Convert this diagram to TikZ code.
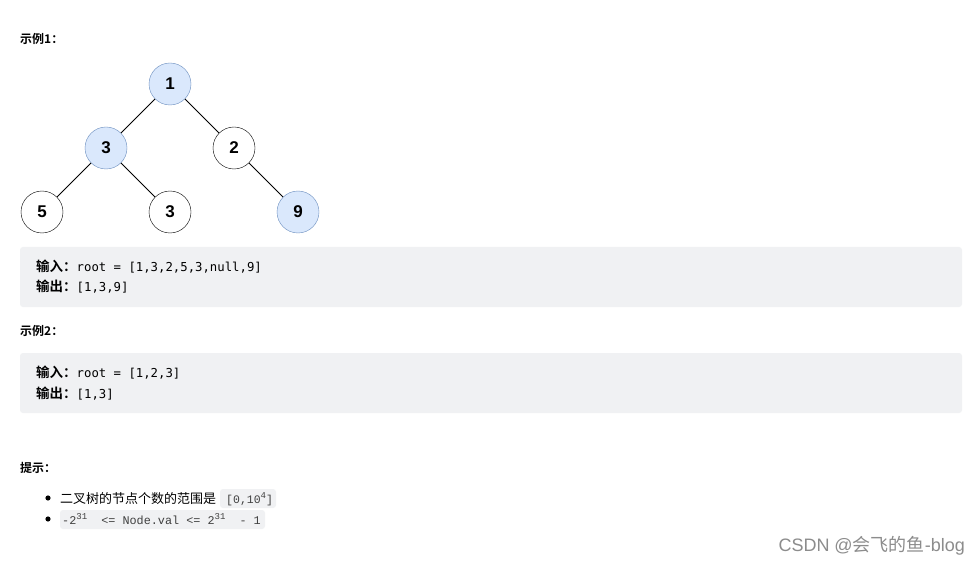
\documentclass[tikz,border=0pt]{standalone}
\usepackage{fontspec}
\setmainfont{Liberation Sans}
\newfontfamily\cjk{Noto Sans CJK SC}
\newfontfamily\cjkb{Noto Sans CJK SC Bold}
\newfontfamily\monof{DejaVu Sans Mono}
\newfontfamily\monog{Liberation Mono}
\definecolor{codebg}{HTML}{F0F1F3}
\definecolor{nodeblue}{HTML}{DAE8FC}
\definecolor{nodeedge}{HTML}{6C8EBF}
\newcommand{\supx}[1]{\raisebox{4.5pt}{\fontsize{9}{9}\selectfont #1}}
\begin{document}
\begin{tikzpicture}[x=1pt,y=-1pt,
  tnode/.style={circle,draw=black,fill=white,minimum size=42pt,inner sep=0pt,font=\fontsize{17}{17}\selectfont\bfseries},
  hnode/.style={tnode,draw=nodeedge,fill=nodeblue},
  edge/.style={draw=black,line width=0.8pt},
  head/.style={anchor=base west,inner sep=0pt,font=\fontsize{12}{12}\selectfont\cjkb},
  codeline/.style={anchor=base west,inner sep=0pt,font=\fontsize{12.3}{12}\selectfont},
  box/.style={fill=codebg,rounded corners=3pt,draw=none}
]
\useasboundingbox (0,0) rectangle (980,564);
\fill[white] (0,0) rectangle (980,564);

\node[head] (h1) at (20,44) {示例1：};

\node[hnode] (n1) at (170,84) {1};
\node[hnode] (n3a) at (106,148) {3};
\node[tnode] (n2) at (234,148) {2};
\node[tnode] (n5) at (42,212) {5};
\node[tnode] (n3b) at (170,212) {3};
\node[hnode] (n9) at (298,212) {9};
\draw[edge] (n1) -- (n3a);
\draw[edge] (n1) -- (n2);
\draw[edge] (n3a) -- (n5);
\draw[edge] (n3a) -- (n3b);
\draw[edge] (n2) -- (n9);

\path[box] (20,247) rectangle (962,307);
\node[codeline] (i1) at (36,271) {{\fontsize{13.5}{12}\selectfont\cjkb 输入：}{\monof root = [1,3,2,5,3,null,9]}};
\node[codeline] (o1) at (36,291) {{\fontsize{13.5}{12}\selectfont\cjkb 输出：}{\monof [1,3,9]}};

\node[head] (h2) at (20,335) {示例2：};
\path[box] (20,353) rectangle (962,413);
\node[codeline] (i2) at (36,377) {{\fontsize{13.5}{12}\selectfont\cjkb 输入：}{\monof root = [1,2,3]}};
\node[codeline] (o2) at (36,398) {{\fontsize{13.5}{12}\selectfont\cjkb 输出：}{\monof [1,3]}};

\node[head] (h3) at (20,472) {提示：};

\fill (48,498) circle (2.6pt);
\fill (48,519) circle (2.6pt);
\node[anchor=base west,inner sep=0pt,font=\fontsize{13}{12}\selectfont\cjk] (t1) at (60,503) {二叉树的节点个数的范围是};
\path[box] (220,489) rectangle (276,508);
\node[anchor=base west,inner sep=0pt,font=\fontsize{11.5}{12}\selectfont\monog,text=black!75] (c1) at (226,503) {[0,10\supx{4}]};
\path[box] (60,510) rectangle (265,529);
\node[anchor=base west,inner sep=0pt,font=\fontsize{11.8}{12}\selectfont\monog,text=black!75] (c2) at (62,524) {-2\supx{31}~ <= Node.val <= 2\supx{31}~ - 1};

\node[anchor=base east,inner sep=0pt,font=\fontsize{18}{18}\selectfont,text=black!45] (wm) at (965,551) {CSDN @{\cjk 会飞的鱼}-blog};
\end{tikzpicture}
\end{document}
